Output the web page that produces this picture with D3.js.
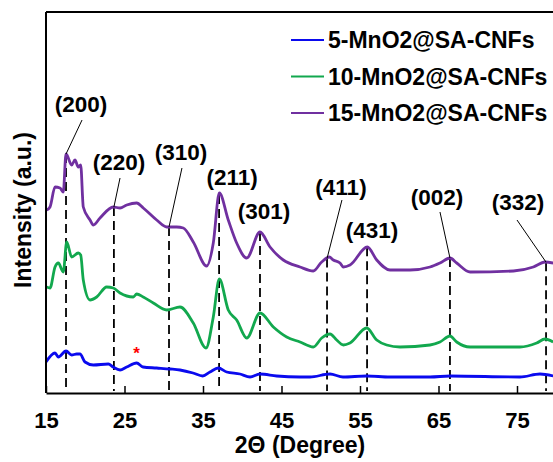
<!DOCTYPE html>
<html>
<head>
<meta charset="utf-8">
<script src="https://cdn.jsdelivr.net/npm/d3@7"></script>
<style>
  body { margin: 0; background: #fff; }
  text { font-family: "Liberation Sans", Arial, sans-serif; font-weight: bold; }
</style>
</head>
<body>
<script>
// XRD patterns, values (intensity in arbitrary units)
var series = ["5-MnO2@SA-CNFs", "10-MnO2@SA-CNFs", "15-MnO2@SA-CNFs"]
var colors = ["#0a0aee", "#12a84e", "#7030a0"]

var theta5 = [15.0, 16.15, 16.57, 17.55, 18.27, 18.91, 19.33, 19.97, 21.03, 22.94, 23.54, 24.43, 25.28, 26.55, 27.36, 29.1, 30.8, 32.07, 33.73, 34.96, 35.89, 36.95, 38.02, 39.71, 40.99, 42.26, 44.39, 47.36, 48.63, 51.18, 52.83, 55.85, 58.82, 63.92, 66.46, 75.38, 77.93, 79.6]
var int5 = [31, 40, 36, 42, 38, 39, 39, 31, 28, 29, 26, 23, 26, 30, 26, 25, 24, 23, 20, 17, 21, 25, 21, 19, 16, 19, 17, 16, 16, 19, 16, 17, 16, 16, 17, 16, 19, 17]

var theta10 = [15.09, 15.51, 16.15, 16.57, 17.2, 17.64, 18.27, 19.11, 19.42, 19.75, 20.61, 21.46, 22.73, 23.57, 24.43, 26.12, 26.55, 27.39, 28.67, 30.38, 32.07, 33.76, 35.38, 36.31, 37.08, 38.22, 39.29, 40.57, 42.26, 43.96, 45.66, 47.36, 49.05, 50.12, 51.18, 52.03, 52.87, 53.73, 55.85, 57.13, 58.4, 60.1, 63.92, 65.19, 66.46, 67.32, 69.03, 75.38, 77.51, 78.57, 79.6]
var int10 = [106, 105, 126, 130, 121, 151, 136, 140, 138, 113, 93, 96, 106, 105, 100, 96, 99, 96, 90, 83, 86, 70, 45, 76, 114, 83, 73, 55, 80, 66, 56, 51, 46, 55, 59, 53, 48, 50, 65, 53, 48, 46, 48, 51, 57, 51, 46, 46, 50, 54, 51]

var theta15 = [15.09, 15.51, 16.15, 16.78, 17.2, 17.55, 18.27, 18.69, 19.11, 19.42, 19.75, 20.61, 21.03, 21.88, 23.57, 24.43, 25.28, 26.55, 27.39, 29.1, 30.38, 31.65, 32.49, 33.76, 35.47, 36.31, 37.08, 38.22, 39.29, 40.57, 42.26, 43.54, 45.23, 47.36, 49.05, 50.12, 51.09, 51.6, 52.45, 52.87, 53.73, 55.93, 57.13, 58.82, 61.37, 63.92, 65.19, 66.46, 67.32, 69.03, 74.55, 77.08, 78.57, 79.6]
var int15 = [183, 186, 206, 205, 201, 239, 228, 233, 226, 228, 186, 173, 168, 175, 186, 185, 188, 190, 185, 173, 166, 166, 165, 151, 127, 150, 200, 173, 150, 135, 161, 146, 133, 126, 122, 131, 136, 133, 130, 126, 128, 146, 133, 123, 123, 126, 130, 135, 130, 121, 122, 126, 131, 130]

// reflections
var peakLabels = ["(200)", "(220)", "(310)", "(211)", "(301)", "(411)", "(431)", "(002)", "(332)"]
var peakTheta = [17.55, 23.65, 30.67, 37.05, 42.26, 50.8, 55.9, 66.46, 78.7]
// label anchor (2theta, intensity) and start of the leader line (null = none)
var labelTheta = [19.46, 24.3, 32.2, 38.7, 42.77, 52.58, 56.53, 64.8, 75.13]
var labelInt = [281, 223, 233, 208, 174, 198, 155, 188, 183]
var leaderTheta = [19.59, 24.43, 32.32, null, null, 52.7, null, 65.19, 75.0]
var leaderInt = [273, 215, 225, null, null, 193, null, 181, 173]

var xTicks = [15, 25, 35, 45, 55, 65, 75]

var w = 553, h = 462

var x = d3.scaleLinear().domain([15, 80]).range([46, 556.25])
var y = d3.scaleLinear().domain([0, 381]).range([393, 12])

var svg = d3.select("body").append("svg")
  .attr("width", w)
  .attr("height", h)

var data = [
  d3.zip(theta5, int5),
  d3.zip(theta10, int10),
  d3.zip(theta15, int15)
]

function purpleAt(t) {
  var i = d3.bisectLeft(theta15, t)
  if (i <= 0) return int15[0]
  if (i >= theta15.length) return int15[int15.length - 1]
  var t0 = theta15[i - 1], t1 = theta15[i]
  return int15[i - 1] + (int15[i] - int15[i - 1]) * (t - t0) / (t1 - t0)
}

// dashed guide lines
svg.selectAll(".guide")
  .data(peakTheta)
  .enter().append("line")
  .attr("class", "guide")
  .attr("x1", d => x(d)).attr("x2", d => x(d))
  .attr("y1", d => y(purpleAt(d)))
  .attr("y2", y(2))
  .attr("stroke", "#000")
  .attr("stroke-width", 1.8)
  .attr("stroke-dasharray", "9,5")

var line = d3.line()
  .curve(d3.curveMonotoneX)
  .x(d => x(d[0])).y(d => y(d[1]))

svg.selectAll(".curve")
  .data(data)
  .enter().append("path")
  .attr("class", "curve")
  .attr("d", line)
  .attr("fill", "none")
  .attr("stroke", (d, i) => colors[i])
  .attr("stroke-width", 2.8)
  .attr("stroke-linejoin", "round")

// leader lines
peakTheta.forEach(function(t, i) {
  if (leaderTheta[i] == null) return
  svg.append("line")
    .attr("x1", x(leaderTheta[i])).attr("y1", y(leaderInt[i]))
    .attr("x2", x(t)).attr("y2", y(purpleAt(t)))
    .attr("stroke", "#000")
    .attr("stroke-width", 1)
})

svg.selectAll(".plabel")
  .data(peakLabels)
  .enter().append("text")
  .attr("class", "plabel")
  .attr("x", (d, i) => x(labelTheta[i]))
  .attr("y", (d, i) => y(labelInt[i]))
  .attr("text-anchor", "middle")
  .attr("font-size", "22.5px")
  .text(d => d)

// impurity marker
svg.append("text")
  .attr("x", x(26.55))
  .attr("y", y(43))
  .attr("dy", 9)
  .attr("text-anchor", "middle")
  .attr("font-size", "17px")
  .attr("fill", "#ff0000")
  .text("*")

// axes
var xAxis = d3.axisBottom(x).tickValues(xTicks).tickSizeInner(-7).tickSizeOuter(0).tickPadding(19)
var gx = svg.append("g")
  .attr("transform", "translate(0," + y(0) + ")")
  .call(xAxis)
gx.select(".domain").attr("stroke-width", 2)
gx.selectAll(".tick line").attr("stroke-width", 1.5)
gx.selectAll("text")
  .attr("font-size", "22px")
  .attr("font-family", "Liberation Sans, Arial, sans-serif")
  .attr("font-weight", "bold")
  .attr("fill", "#000")

svg.append("line")
  .attr("x1", x(15)).attr("x2", x(15))
  .attr("y1", y(0)).attr("y2", y(381))
  .attr("stroke", "#000").attr("stroke-width", 2)
svg.append("line")
  .attr("x1", x(15)).attr("x2", x(80))
  .attr("y1", y(381)).attr("y2", y(381))
  .attr("stroke", "#000").attr("stroke-width", 2)

svg.append("text")
  .attr("x", 300)
  .attr("y", 453)
  .attr("text-anchor", "middle")
  .attr("font-size", "23px")
  .text("2\u0398 (Degree)")

svg.append("text")
  .attr("transform", "translate(31,210) rotate(-90)")
  .attr("text-anchor", "middle")
  .attr("font-size", "23px")
  .text("Intensity (a.u.)")

// legend
var legend = svg.selectAll(".legend")
  .data(series)
  .enter().append("g")
  .attr("class", "legend")
  .attr("transform", (d, i) => "translate(0," + (40 + i * 36.5) + ")")

legend.append("line")
  .attr("x1", 291).attr("x2", 324)
  .attr("stroke", (d, i) => colors[i])
  .attr("stroke-width", 2.2)

legend.append("text")
  .attr("x", 328)
  .attr("y", 8)
  .attr("font-size", "23px")
  .text(d => d)
</script>
</body>
</html>
